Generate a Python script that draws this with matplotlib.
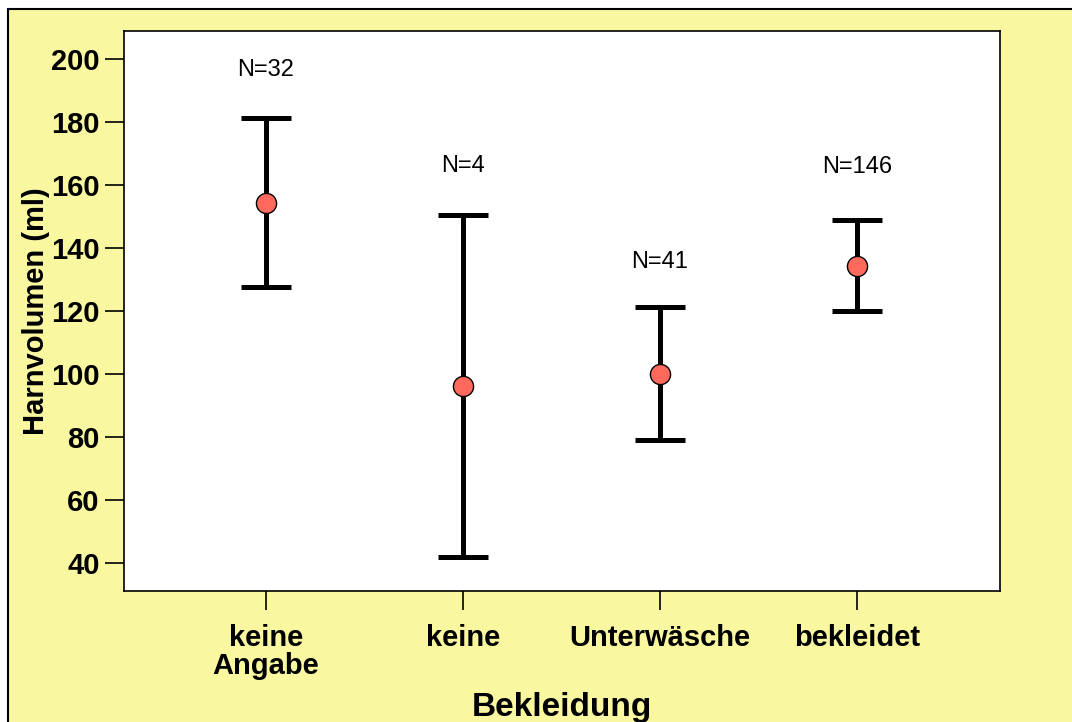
import matplotlib
matplotlib.use("Agg")
import matplotlib.pyplot as plt
from matplotlib.patches import Rectangle

plt.rcParams["font.family"] = ["Liberation Sans", "DejaVu Sans"]

categories = ["keine\nAngabe", "keine", "Unterwäsche", "bekleidet"]
means = [154.4, 96.2, 100.1, 134.3]
upper = [181.2, 150.6, 121.2, 148.9]
lower = [127.6, 42.0, 79.0, 120.1]
counts = ["N=32", "N=4", "N=41", "N=146"]
label_y = [196.5, 166.0, 135.5, 165.8]

x = list(range(1, len(categories) + 1))
err_lo = [m - l for m, l in zip(means, lower)]
err_hi = [u - m for u, m in zip(upper, means)]

fig = plt.figure(figsize=(10.72, 7.22), dpi=100)
fig.patch.set_facecolor("white")
fig.patches.append(Rectangle((8 / 1072, -0.05), 1.1, 1 - 9 / 722 + 0.05,
                             transform=fig.transFigure, facecolor="#f9f7a0",
                             edgecolor="black", linewidth=1.5, zorder=-10))

ax = fig.add_axes([124 / 1072, 1 - 591 / 722, 876 / 1072, 560 / 722])
ax.set_facecolor("white")

ax.errorbar(x, means, yerr=[err_lo, err_hi], fmt="none", ecolor="black",
            elinewidth=3.6, capsize=18, capthick=3.6, zorder=2)
ax.plot(x, means, "o", markersize=14.5, markerfacecolor="#ff6a5c",
        markeredgecolor="black", markeredgewidth=1, zorder=3)

for xi, yi, t in zip(x, label_y, counts):
    ax.text(xi, yi, t, ha="center", va="center", fontsize=17)

ax.set_xlim(0.28, 4.725)
ax.set_ylim(31.1, 208.9)
ax.set_yticks([40, 60, 80, 100, 120, 140, 160, 180, 200])
ax.set_xticks(x)
ax.set_xticklabels(categories, fontsize=21, fontweight="bold", linespacing=1.0)
ax.tick_params(axis="y", labelsize=21, length=14, width=1.2, direction="out")
ax.tick_params(axis="x", length=14, width=1.2, direction="out", pad=10)
for lbl in ax.get_yticklabels():
    lbl.set_fontweight("bold")
for s in ax.spines.values():
    s.set_linewidth(1.2)

ax.set_ylabel("Harnvolumen (ml)", fontsize=21, fontweight="bold")
ax.set_xlabel("Bekleidung", fontsize=24, fontweight="bold")
ax.yaxis.set_label_coords(-0.084, 0.5)
ax.xaxis.set_label_coords(0.5, -0.181)

fig.savefig("out.png", dpi=100)
